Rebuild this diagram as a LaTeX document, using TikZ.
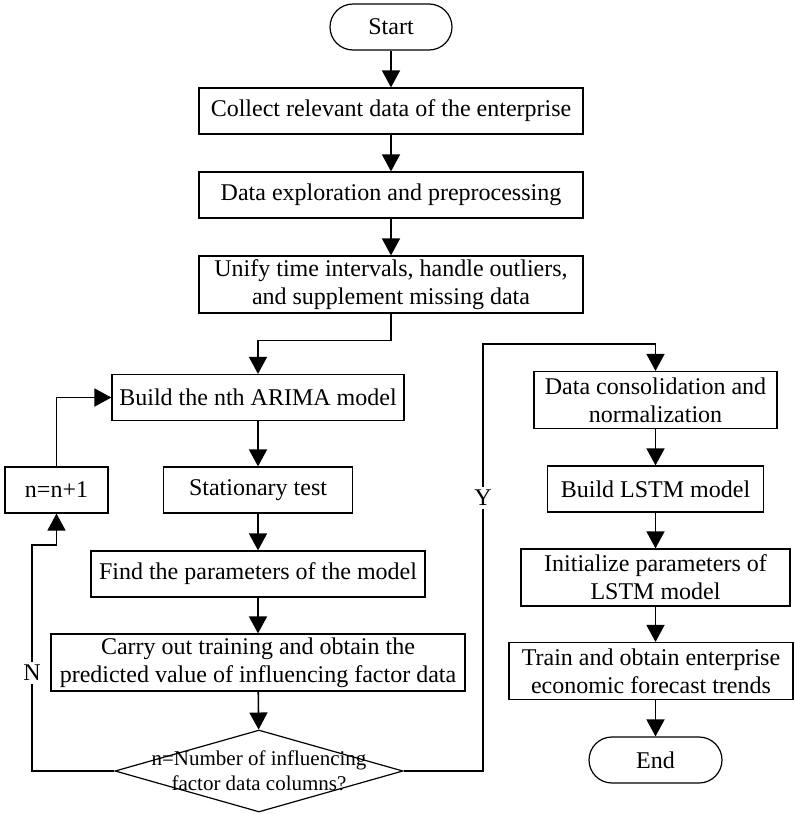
\documentclass[tikz,border=0pt]{standalone}
\usepackage{fontspec}
\setmainfont{Liberation Serif}
\usetikzlibrary{arrows.meta, shapes.geometric}

\begin{document}
\begin{tikzpicture}[x=0.5pt, y=-0.5pt, >={Triangle[length=8.5pt, width=9pt]},
  box/.style={draw, line width=0.6pt, minimum height=23pt, inner sep=1pt,
    align=center, font=\fontsize{12}{14}\selectfont},
  twoline/.style={box, minimum height=28.5pt},
  term/.style={box, rounded corners=11.5pt},
  decision/.style={draw, diamond, line width=0.6pt, minimum width=144pt,
    minimum height=41pt, inner sep=0pt},
  flow/.style={->, line width=0.8pt},
  lab/.style={fill=white, inner sep=1.5pt, font=\fontsize{12}{14}\selectfont}]
  \useasboundingbox (0,0) rectangle (794,814);

  % Preparation of the data
  \node[term, minimum width=61pt] (start) at (391,27) {Start};
  \node[box, minimum width=192pt] (collect) at (391,111)
    {Collect relevant data of the enterprise};
  \node[box, minimum width=192pt] (explore) at (391,195)
    {Data exploration and preprocessing};
  \node[twoline, minimum width=192pt] (unify) at (391,284.5)
    {Unify time intervals, handle outliers,\\and supplement missing data};

  % ARIMA loop over the influencing factors
  \node[box, minimum width=146pt] (arima) at (258,397.5) {Build the nth ARIMA model};
  \node[box, minimum width=94.5pt] (stat) at (258,490) {Stationary test};
  \node[box, minimum width=51.5pt] (nplus) at (56.5,490) {n=n+1};
  \node[box, minimum width=167pt] (find) at (258,574)
    {Find the parameters of the model};
  \node[twoline, minimum width=207pt] (carry) at (258,662.5)
    {Carry out training and obtain the\\predicted value of influencing factor data};
  \node[decision] (check) at (259,771) {};
  \node[font=\fontsize{10.5}{12.5}\selectfont, align=center] (checktext) at (check)
    {n=Number of influencing\\factor data columns?};

  % LSTM branch
  \node[twoline, minimum width=121.5pt] (cons) at (655.5,400)
    {Data consolidation and\\normalization};
  \node[box, minimum width=108pt] (lstm) at (655.5,489) {Build LSTM model};
  \node[twoline, minimum width=134.5pt] (init) at (655.5,577.5)
    {Initialize parameters of\\LSTM model};
  \node[twoline, minimum width=142pt] (train) at (651,671)
    {Train and obtain enterprise\\economic forecast trends};
  \node[term, minimum width=66.5pt] (end) at (655.5,760) {End};

  % Main flow
  \draw[flow] (start) -- (collect);
  \draw[flow] (collect) -- (explore);
  \draw[flow] (explore) -- (unify);
  \draw[flow] (unify.south) -- ++(0,27) -| (arima.north);
  \draw[flow] (arima) -- (stat);
  \draw[flow] (stat) -- (find);
  \draw[flow] (find) -- (carry);
  \draw[flow] (carry) -- (check);

  % No: next factor
  \coordinate (nback) at (32,545);
  \draw[flow] (check.west) -| (nback) -- (nplus.south |- nback) -- (nplus.south);
  \draw[flow] (nplus.north) |- (arima.west);
  \node[lab] (nlab) at (32,673) {N};

  % Yes: go to LSTM
  \coordinate (yturn) at (483,344);
  \draw[flow] (check.east) -| (yturn) -| (cons.north);
  \node[lab] (ylab) at (483,498) {Y};

  \draw[flow] (cons) -- (lstm);
  \draw[flow] (lstm) -- (init);
  \draw[flow] (init.south) -- (init.south |- train.north);
  \draw[flow] (end.north |- train.south) -- (end.north);
\end{tikzpicture}
\end{document}
